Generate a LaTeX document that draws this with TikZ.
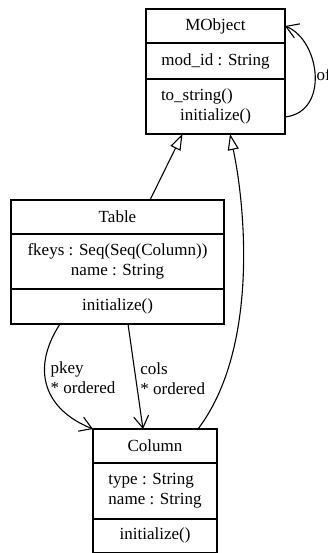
\documentclass[tikz,border=0pt]{standalone}
\usepackage{fontspec}
\setmainfont{Liberation Serif}
\usetikzlibrary{positioning, arrows.meta}

\newcommand{\umlfont}{\fontsize{17}{20}\selectfont}

\tikzset{
  classbox/.style={draw, line width=1.1pt, outer sep=0pt, inner sep=0pt, minimum width=#1, font=\umlfont},
  gen/.style={line width=1.1pt, -{Triangle[open, length=16pt, width=11pt]}},
  assoc/.style={line width=1.1pt, -{Straight Barb[length=12pt, width=15pt]}},
  lbl/.style={font=\umlfont, align=left, inner sep=0pt}
}

\begin{document}
\begin{tikzpicture}[x=1pt, y=-1pt]
        \useasboundingbox (0,0) rectangle (327,553);
        % MObject
        \node[classbox=139pt, minimum height=34pt] (mobj) at (215.5,26) {MObject};
        \node[classbox=139pt, minimum height=36pt, below=0pt of mobj] (mobj-attr) {mod\_id : String};
        \node[classbox=139pt, minimum height=55pt, below=0pt of mobj-attr, text width=109pt, align=center] (mobj-ops)
                {\makebox[\linewidth][l]{to\_string()}\\initialize()};
        % Table
        \node[classbox=213pt, minimum height=34pt] (tab) at (117.5,217) {Table};
        \node[classbox=213pt, minimum height=55pt, below=0pt of tab, align=center] (tab-attr)
                {fkeys : Seq(Seq(Column))\\name : String};
        \node[classbox=213pt, minimum height=35pt, below=0pt of tab-attr] (tab-ops) {initialize()};
        % Column
        \node[classbox=124pt, minimum height=34pt] (col) at (155,446) {Column};
        \node[classbox=124pt, minimum height=56pt, below=0pt of col, align=left] (col-attr)
                {type : String\\name : String};
        \node[classbox=124pt, minimum height=33.3pt, below=0pt of col-attr] (col-ops) {initialize()};
        % generalizations
        \draw[gen] ([xshift=32.5pt]tab.north) -- ([xshift=-33pt]mobj-ops.south);
        \draw[gen] ([xshift=43pt]col.north) .. controls (258,350) and (246,210) .. ([xshift=14.5pt]mobj-ops.south);
        % self association
        \draw[assoc] ([yshift=-10.5pt]mobj-ops.east) .. controls (330,112) and (320,40) .. (mobj.east)
                node[pos=0.5, lbl, anchor=west, xshift=1pt] (of-lbl) {of};
        % associations to Column
        \draw[assoc] ([xshift=-57.5pt]tab-ops.south) .. controls (30,370) and (45,410) .. (col.north west)
                node[pos=0.42, lbl, anchor=west, xshift=5pt] (pkey-lbl) {pkey\\* ordered};
        \draw[assoc] ([xshift=10.5pt]tab-ops.south) -- ([xshift=-12pt]col.north)
                node[pos=0.52, lbl, anchor=west, xshift=4pt] (cols-lbl) {cols\\* ordered};
\end{tikzpicture}
\end{document}
